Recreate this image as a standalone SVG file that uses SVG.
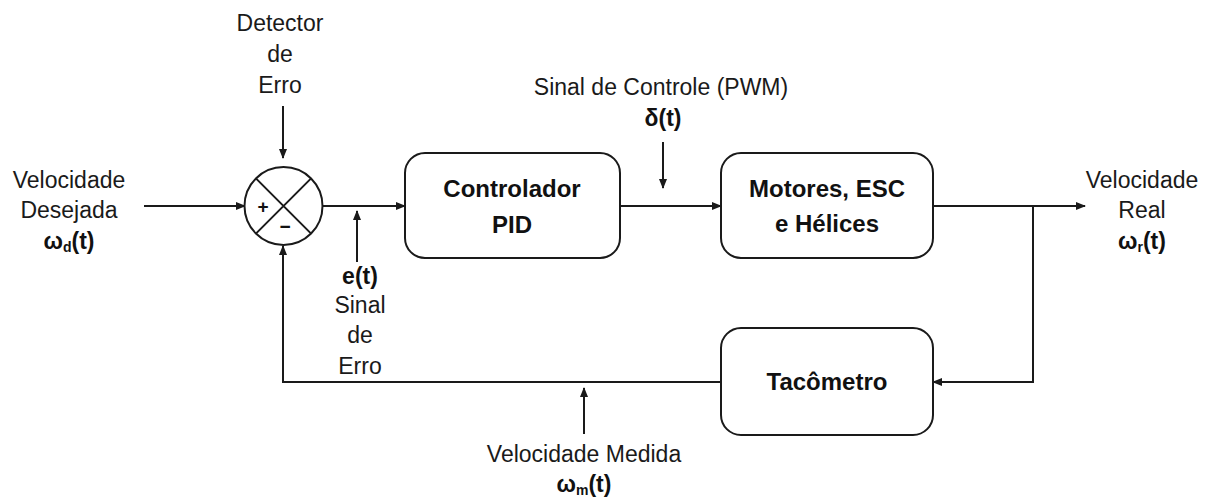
<svg xmlns="http://www.w3.org/2000/svg" width="1210" height="498" viewBox="0 0 1210 498">
<style>
.t{font-family:"Liberation Sans",Arial,sans-serif;font-size:23px;fill:#1a1a1a;text-anchor:middle}
.b{font-family:"Liberation Sans",Arial,sans-serif;font-size:23px;font-weight:bold;fill:#111;text-anchor:middle}
.bx{font-family:"Liberation Sans",Arial,sans-serif;font-size:24px;font-weight:bold;fill:#111;text-anchor:middle}
.sg{font-family:"Liberation Sans",Arial,sans-serif;font-size:19px;font-weight:bold;fill:#111;text-anchor:middle}
.box{fill:#fff;stroke:#1a1a1a;stroke-width:2}
.ln{fill:none;stroke:#1a1a1a;stroke-width:2}
.ar{fill:none;stroke:#1a1a1a;stroke-width:2;marker-end:url(#ah)}
</style>
<defs>
<marker id="ah" markerWidth="10" markerHeight="8" refX="9" refY="4" orient="auto" markerUnits="userSpaceOnUse">
<path d="M0,0 L10,4 L0,8 z" fill="#1a1a1a"/>
</marker>
</defs>
<rect width="1210" height="498" fill="#fff"/>
<g id="connectors">
<path class="ar" d="M144,206 H245"/>
<path class="ar" d="M283,106 V158"/>
<path class="ar" d="M322,206 H405"/>
<path class="ar" d="M357,262 V211"/>
<path class="ar" d="M620,206 H721"/>
<path class="ar" d="M663,142 V188"/>
<path class="ar" d="M933,206 H1085"/>
<path class="ar" d="M1033,206 V382 H933"/>
<path class="ar" d="M721,382 H283 V246"/>
<path class="ar" d="M584,434 V388"/>
</g>
<g id="summer">
<circle class="box" cx="283.5" cy="206" r="39"/>
<path class="ln" d="M255.9,178.4 L311.1,233.6 M311.1,178.4 L255.9,233.6"/>
<text class="sg" x="263" y="213">+</text>
<text class="sg" x="285" y="233">−</text>
</g>
<g id="pid">
<rect class="box" x="405" y="153" width="215" height="105" rx="20"/>
<text class="bx" x="512" y="197">Controlador</text>
<text class="bx" x="512" y="233">PID</text>
</g>
<g id="motores">
<rect class="box" x="721" y="153" width="212" height="105" rx="20"/>
<text class="bx" x="827" y="197">Motores, ESC</text>
<text class="bx" x="827" y="232">e Hélices</text>
</g>
<g id="tacometro">
<rect class="box" x="721" y="328" width="212" height="107" rx="20"/>
<text class="bx" x="827" y="390">Tacômetro</text>
</g>
<g id="label-detector">
<text class="t" x="280" y="31">Detector</text>
<text class="t" x="280" y="62">de</text>
<text class="t" x="280" y="93">Erro</text>
</g>
<g id="label-desejada">
<text class="t" x="69" y="188">Velocidade</text>
<text class="t" x="69" y="218">Desejada</text>
<text class="b" x="69" y="249">ω<tspan font-size="14" dy="3">d</tspan><tspan dy="-3">(t)</tspan></text>
</g>
<g id="label-erro">
<text class="b" x="360" y="284">e(t)</text>
<text class="t" x="360" y="313">Sinal</text>
<text class="t" x="360" y="343">de</text>
<text class="t" x="360" y="374">Erro</text>
</g>
<g id="label-controle">
<text class="t" x="661" y="95">Sinal de Controle (PWM)</text>
<text class="b" x="663" y="126">δ(t)</text>
</g>
<g id="label-real">
<text class="t" x="1142" y="188">Velocidade</text>
<text class="t" x="1142" y="218">Real</text>
<text class="b" x="1142" y="249">ω<tspan font-size="14" dy="3">r</tspan><tspan dy="-3">(t)</tspan></text>
</g>
<g id="label-medida">
<text class="t" x="584" y="462">Velocidade Medida</text>
<text class="b" x="584" y="492">ω<tspan font-size="14" dy="3">m</tspan><tspan dy="-3">(t)</tspan></text>
</g>
</svg>
